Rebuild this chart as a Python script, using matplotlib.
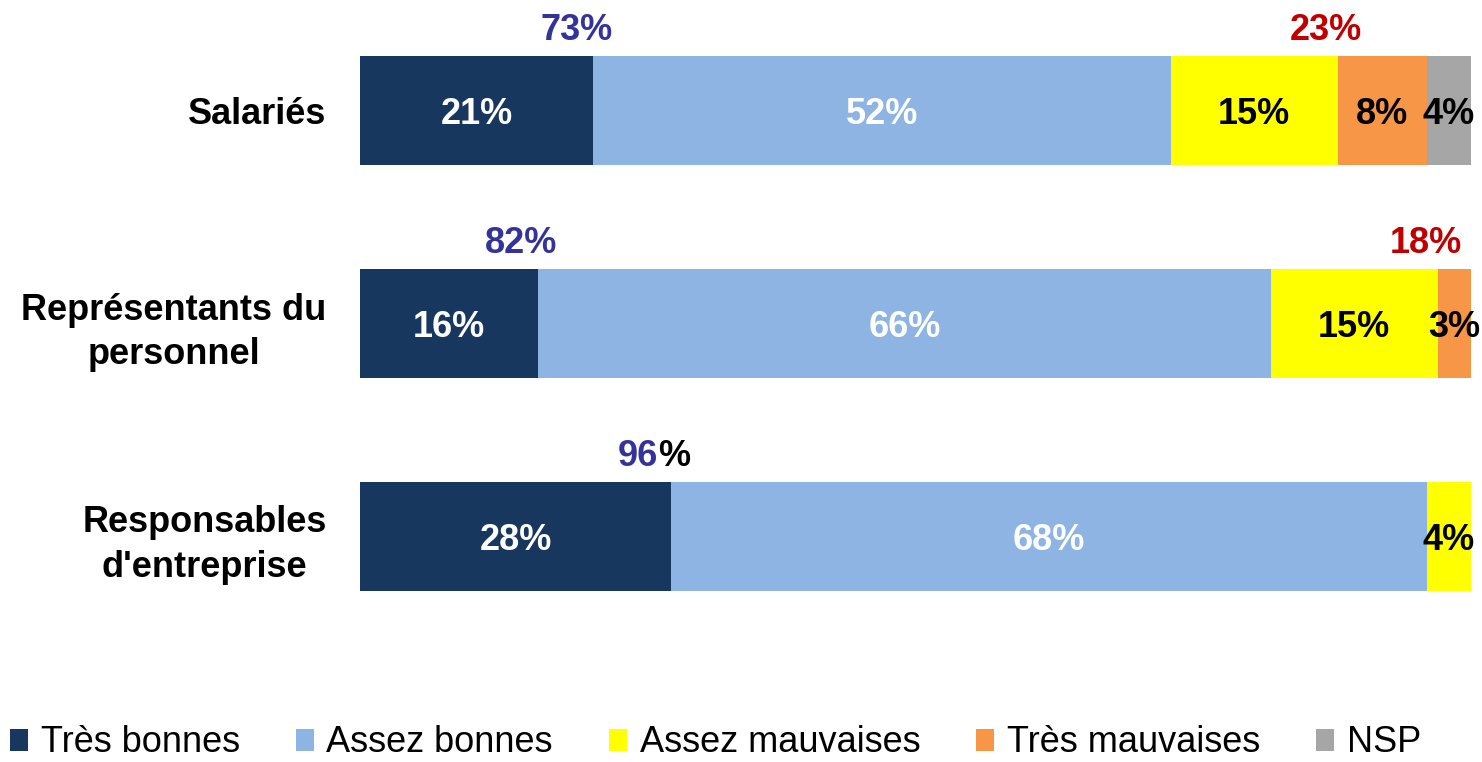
import matplotlib.pyplot as plt
import numpy as np

plt.rcParams['font.family'] = ['Liberation Sans', 'DejaVu Sans']

# data
groups = ['Salariés', 'Représentants du\npersonnel', "Responsables\nd'entreprise"]
series = ['Très bonnes', 'Assez bonnes', 'Assez mauvaises', 'Très mauvaises', 'NSP']
values = np.array([
    [21, 52, 15, 8, 4],
    [16, 66, 15, 3, 0],
    [28, 68, 4, 0, 0],
])
pos_totals = [73, 82, 96]
neg_totals = [23, 18, None]

colors = ['#17375e', '#8eb4e3', '#ffff00', '#f79646', '#a6a6a6']
text_colors = ['white', 'white', 'black', 'black', 'black']
blue = '#333399'
red = '#c00000'

fig = plt.figure(figsize=(14.82, 7.62), dpi=100)
ax = fig.add_axes([360 / 1482, 1 - 643 / 762, 1111 / 1482, 639 / 762])

y = np.arange(len(groups))
left = np.zeros(len(groups))
handles = []
for j, name in enumerate(series):
    b = ax.barh(y, values[:, j], left=left, height=0.51, color=colors[j], label=name)
    handles.append(b)
    for i in range(len(groups)):
        v = values[i, j]
        if v > 0:
            ax.text(left[i] + v / 2, y[i] + 0.02, f'{v}%', ha='center', va='center',
                    fontsize=26, fontweight='bold', color=text_colors[j])
    left += values[:, j]

# totals above bars
ty = -0.375
for i in range(len(groups)):
    xp = values[i, 0] - 1.5
    if i == 2:
        ax.text(xp + 0.3, y[i] + ty, f'{pos_totals[i]}', ha='right', va='center',
                fontsize=26, fontweight='bold', color=blue)
        ax.text(xp + 0.3, y[i] + ty, '%', ha='left', va='center',
                fontsize=26, fontweight='bold', color='black')
    else:
        ax.text(xp, y[i] + ty, f'{pos_totals[i]}%', ha='center', va='center',
                fontsize=26, fontweight='bold', color=blue)
    if neg_totals[i] is not None:
        xn = values[i, :3].sum() - 1.1
        ax.text(xn, y[i] + ty, f'{neg_totals[i]}%', ha='center', va='center',
                fontsize=26, fontweight='bold', color=red)

ax.set_xlim(0, 100)
ax.set_ylim(2.5, -0.5)
ax.set_yticks(y)
ax.set_yticklabels(groups, fontsize=26, fontweight='bold', multialignment='center',
                   linespacing=1.35)
ax.tick_params(axis='y', length=0, pad=24)
ax.set_xticks([])
for s in ax.spines.values():
    s.set_visible(False)

fig.legend(handles=handles, labels=series, loc='center left',
           bbox_to_anchor=(10 / 1482, 1 - 743 / 762), ncol=5, frameon=False,
           fontsize=26, handlelength=0.5, handleheight=0.55, handletextpad=0.35,
           columnspacing=1.55, borderpad=0, borderaxespad=0)

fig.savefig('out.png', dpi=100, facecolor='white')
